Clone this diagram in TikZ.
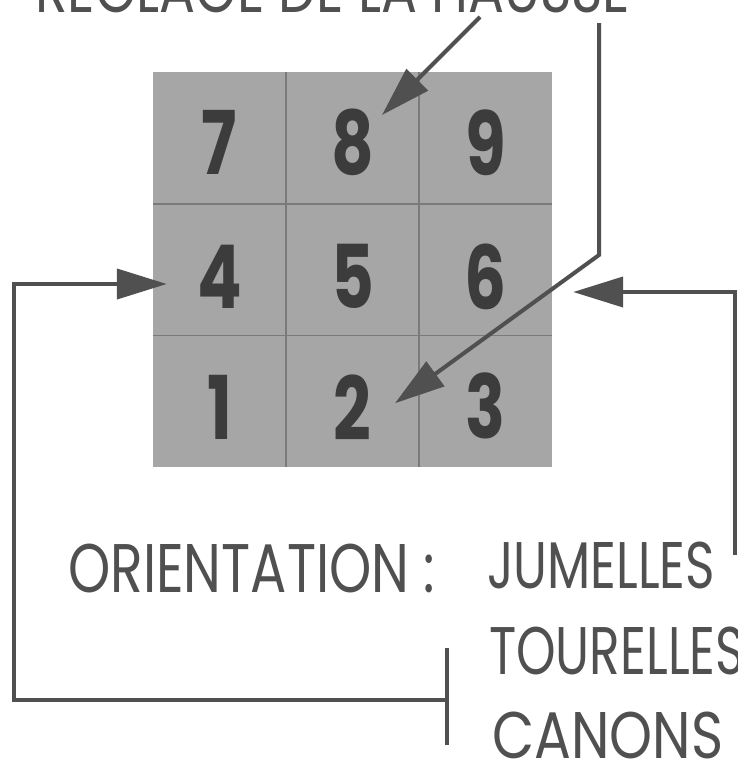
\documentclass[tikz,border=0pt]{standalone}
\usepackage{fontspec}
\setmainfont{Poppins}
\usetikzlibrary{arrows.meta}
\definecolor{ink}{HTML}{505050}
\definecolor{cellfill}{HTML}{A6A6A6}
\definecolor{gridline}{HTML}{7A7A7A}
\definecolor{digitcol}{HTML}{3C3C3C}
\newcommand{\capfit}[3]{\resizebox{#1}{#2}{\raisebox{0pt}[\fontcharht\font`H]{#3}}}
\newcommand{\dg}[1]{\scalebox{0.75}[1]{#1}}
\begin{document}
\begin{tikzpicture}[x=1pt,y=-1pt,
  cell/.style={fill=cellfill, draw=none, minimum width=133pt, minimum height=131.7pt, inner sep=0pt},
  gridl/.style={draw=gridline, line width=1.6pt},
  digit/.style={text=digitcol, inner sep=0pt, font=\fontsize{88}{88}\selectfont\bfseries},
  txt/.style={text=ink, inner sep=0pt, anchor=base west, font=\fontsize{60}{60}\selectfont},
  conn/.style={draw=ink, line width=4pt},
  head/.style={-{Triangle[length=50pt,width=30pt]}}]
\useasboundingbox (0,0) rectangle (737,761);
\clip (0,0) rectangle (737,761);
% cells
\node[cell] (c7) at (219.5,137.8) {};
\node[cell] (c8) at (352.5,137.8) {};
\node[cell] (c9) at (485.5,137.8) {};
\node[cell] (c4) at (219.5,269.5) {};
\node[cell] (c5) at (352.5,269.5) {};
\node[cell] (c6) at (485.5,269.5) {};
\node[cell] (c1) at (219.5,401.2) {};
\node[cell] (c2) at (352.5,401.2) {};
\node[cell] (c3) at (485.5,401.2) {};
% inner grid lines
\draw[gridl] (c7.north east) -- (c1.south east);
\draw[gridl] (c8.north east) -- (c2.south east);
\draw[gridl] (c7.south west) -- (c9.south east);
\draw[gridl] (c4.south west) -- (c6.south east);
% digits
\node[digit] (d7) at ([yshift=-5pt]c7.center) {\dg{7}};
\node[digit] (d8) at ([yshift=-5pt]c8.center) {\dg{8}};
\node[digit] (d9) at ([yshift=-5pt]c9.center) {\dg{9}};
\node[digit] (d4) at ([yshift=-7pt]c4.center) {\dg{4}};
\node[digit] (d5) at ([yshift=-7pt]c5.center) {\dg{5}};
\node[digit] (d6) at ([yshift=-7pt]c6.center) {\dg{6}};
\node[digit] (d1) at ([yshift=-6pt]c1.center) {\dg{1}};
\node[digit] (d2) at ([yshift=-6pt]c2.center) {\dg{2}};
\node[digit] (d3) at ([yshift=-5pt]c3.center) {\dg{3}};
% texts
\node[txt] (hausse) at (35,12) {\capfit{595pt}{46pt}{RÉGLAGE DE LA HAUSSE}};
\node[txt] (orient) at (68,592) {\capfit{367pt}{48pt}{ORIENTATION :}};
\node[txt] (jum) at (487,588) {\capfit{228pt}{46pt}{JUMELLES}};
\node[txt] (tour) at (489,674) {\capfit{256pt}{47pt}{TOURELLES}};
\node[txt] (can) at (492,758) {\capfit{231pt}{46pt}{CANONS}};
% connector coordinates
\coordinate (hStart) at (480,17);
\coordinate (t8) at ([shift={(29.5,-22.8)}]c8.center);
\coordinate (jStart) at (599,23);
\coordinate (jBend) at (599,255);
\coordinate (t2) at ([shift={(42.5,2)}]c2.center);
\coordinate (rStart) at (735,555);
\coordinate (rBend) at (735,292);
\coordinate (t6) at ([shift={(21,22.5)}]c6.east);
\coordinate (lStart) at (447,700);
\coordinate (lBend1) at (14,700);
\coordinate (lBend2) at (14,284);
\coordinate (t4) at ([shift={(14,14.5)}]c4.west);
\coordinate (tickTop) at (447,648);
\coordinate (tickBot) at (447,745);
% connectors
\draw[conn,head] (hStart) -- (t8);
\draw[conn,head,line join=miter] (jStart) -- (jBend) -- (t2);
\draw[conn,head,line join=miter] (rStart) -- (rBend) -- (t6);
\draw[conn,head,line join=miter] (lStart) -- (lBend1) -- (lBend2) -- (t4);
\draw[conn] (tickTop) -- (tickBot);
\end{tikzpicture}
\end{document}
